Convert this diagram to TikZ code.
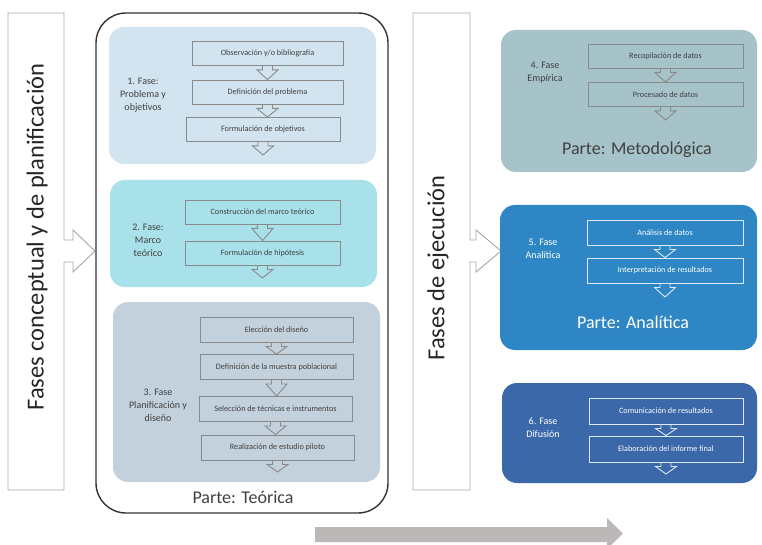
\documentclass[tikz,border=0pt]{standalone}
\usepackage{fontspec}
\setmainfont{Carlito}
\usetikzlibrary{calc}

\definecolor{phaseA}{HTML}{D2E4EF}
\definecolor{phaseB}{HTML}{A9E1EA}
\definecolor{phaseC}{HTML}{C3D1DC}
\definecolor{phaseD}{HTML}{A6C3CA}
\definecolor{phaseE}{HTML}{2E87C4}
\definecolor{phaseF}{HTML}{3A68A8}
\definecolor{inkdark}{HTML}{404040}
\definecolor{stepline}{HTML}{8A8A8A}
\definecolor{stepwhite}{HTML}{DCEAF5}
\definecolor{bandgray}{HTML}{A6A6A6}
\definecolor{flowgray}{HTML}{BCB8B7}

\tikzset{
  phasebox/.style={rounded corners=15, inner sep=0, draw=none},
  stepbox/.style={draw=stepline, line width=0.9, inner sep=0, minimum height=24,
    font=\fontsize{8.2}{9}\selectfont, text=inkdark},
  whitestep/.style={stepbox, draw=stepwhite, text=white},
  chevline/.style={draw=stepline, line width=0.9},
  whitechev/.style={draw=stepwhite, line width=0.9},
  phaselabel/.style={align=center, font=\fontsize{10}{13}\selectfont, text=inkdark},
  whitelabel/.style={phaselabel, text=white},
  partlabel/.style={font=\fontsize{18}{20}\selectfont, text=inkdark},
  bandtitle/.style={rotate=90, font=\fontsize{24.5}{27}\selectfont, text=black!85},
  band/.style={draw=bandgray, line width=0.9},
}

% hollow down arrow hanging under step #2, tip on #3
\newcommand\chev[3][chevline]{%
  \draw[#1] ($(#2.south)+(-5,0)$) -- ++(0,4) -- ++(-5.5,0) -- (#2.south |- #3)
    -- ($(#2.south)+(10.5,4)$) -- ++(-5.5,0) -- ++(0,-4);}

\begin{document}
\begin{tikzpicture}[x=1pt, y=-1pt]
\useasboundingbox (0,0) rectangle (762,545);

% side bands with their pointers
\draw[band] (8,13) -- (64,13) -- (64,240) -- (73,240) -- (73,230) -- (95,251)
  -- (73,272) -- (73,262) -- (64,262) -- (64,490) -- (8,490) -- cycle;
\node[bandtitle] (bandL) at (37,237) {Fases conceptual y de planificación};

\draw[band] (413,13) -- (470,13) -- (470,240) -- (476,240) -- (476,230) -- (501,251)
  -- (476,272) -- (476,262) -- (470,262) -- (470,490) -- (413,490) -- cycle;
\node[bandtitle] (bandR) at (438,268) {Fases de ejecución};

% theoretical part frame
\node[draw=black!80, line width=1.4, rounded corners=30, minimum width=292,
  minimum height=500, inner sep=0] (teorica) at (242,263) {};
\node[partlabel] (teoricaT) at (243,497) {Parte: Teórica};

% phase 1
\node[phasebox, fill=phaseA, minimum width=267, minimum height=137] (p1) at (242.5,95.5) {};
\node[phaselabel] (p1t) at (143,95) {1. Fase:\\Problema y\\objetivos};
\node[stepbox, minimum width=151] (b11) at (267.5,53.5) {Observación y/o bibliografía};
\node[stepbox, minimum width=151] (b12) at (267.5,92) {Definición del problema};
\node[stepbox, minimum width=154] (b13) at (263,129.5) {Formulación de objetivos};
\coordinate (e13) at (263,155);
\chev{b11}{b12.north}
\chev{b12}{b13.north}
\chev{b13}{e13}

% phase 2
\node[phasebox, fill=phaseB, minimum width=267, minimum height=107] (p2) at (243.5,233.5) {};
\node[phaselabel] (p2t) at (148,240) {2. Fase:\\Marco\\teórico};
\node[stepbox, minimum width=155] (b21) at (262.5,212) {Construcción del marco teórico};
\node[stepbox, minimum width=155] (b22) at (262.5,253) {Formulación de hipótesis};
\coordinate (e22) at (262.5,278);
\chev{b21}{b22.north}
\chev{b22}{e22}

% phase 3
\node[phasebox, fill=phaseC, minimum width=267, minimum height=180] (p3) at (246.5,392) {};
\node[phaselabel] (p3t) at (158,405) {3. Fase\\Planificación y\\diseño};
\node[stepbox, minimum width=153, minimum height=25] (b31) at (276.5,329.5) {Elección del diseño};
\node[stepbox, minimum width=153, minimum height=25] (b32) at (276.5,367) {Definición de la muestra poblacional};
\node[stepbox, minimum width=153, minimum height=25] (b33) at (275.5,409) {Selección de técnicas e instrumentos};
\node[stepbox, minimum width=153, minimum height=25] (b34) at (277.5,447.5) {Realización de estudio piloto};
\coordinate (e34) at (277.5,472);
\chev{b31}{b32.north}
\chev{b32}{b33.north}
\chev{b33}{b34.north}
\chev{b34}{e34}

% phase 4
\node[phasebox, fill=phaseD, minimum width=256, minimum height=142] (p4) at (629,101) {};
\node[phaselabel] (p4t) at (545,73) {4. Fase\\Empírica};
\node[stepbox, minimum width=155] (b41) at (665.5,56) {Recopilación de datos};
\node[stepbox, minimum width=155] (b42) at (665.5,94.5) {Procesado de datos};
\coordinate (e42) at (665.5,120);
\chev{b41}{b42.north}
\chev{b42}{e42}
\node[partlabel] (p4p) at (637,150) {Parte: Metodológica};

% phase 5
\node[phasebox, fill=phaseE, minimum width=257, minimum height=145] (p5) at (628.5,277.5) {};
\node[whitelabel] (p5t) at (543,249) {5. Fase\\Analítica};
\node[whitestep, minimum width=156, minimum height=25] (b51) at (665,232.5) {Análisis de datos};
\node[whitestep, minimum width=156, minimum height=25] (b52) at (665,270.5) {Interpretación de resultados};
\coordinate (e52) at (665,297);
\chev[whitechev]{b51}{b52.north}
\chev[whitechev]{b52}{e52}
\node[partlabel, text=white] (p5p) at (633,322) {Parte: Analítica};

% phase 6
\node[phasebox, fill=phaseF, minimum width=255, minimum height=100] (p6) at (629.5,433) {};
\node[whitelabel] (p6t) at (543,427.5) {6. Fase\\Difusión};
\node[whitestep, minimum width=154, minimum height=26] (b61) at (666,411) {Comunicación de resultados};
\node[whitestep, minimum width=154, minimum height=26] (b62) at (666,449) {Elaboración del informe final};
\coordinate (e62) at (666,474);
\chev[whitechev]{b61}{b62.north}
\chev[whitechev]{b62}{e62}

% overall flow arrow
\fill[flowgray] (315,527) -- (607,527) -- (607,518) -- (623,533.5) -- (607,549)
  -- (607,542) -- (315,542) -- cycle;
\end{tikzpicture}
\end{document}
